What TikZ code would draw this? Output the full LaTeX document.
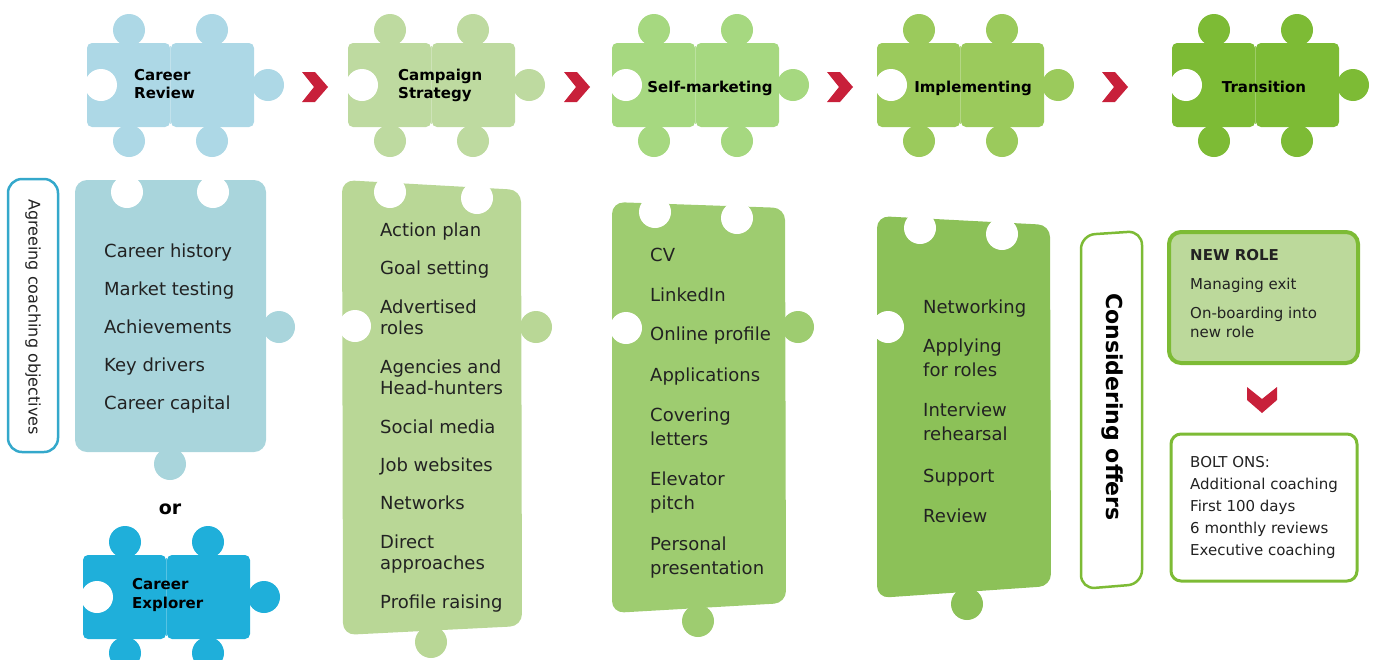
\documentclass[tikz,border=0pt]{standalone}
\usepackage{fontspec}
\setmainfont{DejaVu Sans}
\definecolor{crBlue}{RGB}{173,216,230}
\definecolor{cardBlue}{RGB}{169,213,220}
\definecolor{campG}{RGB}{190,218,160}
\definecolor{cardTwo}{RGB}{185,215,150}
\definecolor{selfG}{RGB}{166,216,128}
\definecolor{cardThree}{RGB}{158,204,112}
\definecolor{implG}{RGB}{155,202,92}
\definecolor{cardFour}{RGB}{140,193,88}
\definecolor{transG}{RGB}{125,187,53}
\definecolor{explB}{RGB}{31,175,218}
\definecolor{chevRed}{RGB}{200,32,58}
\definecolor{agreeB}{RGB}{52,168,203}
\definecolor{newRoleG}{RGB}{188,217,155}
\definecolor{txt}{RGB}{34,34,34}
\newcommand\jigsaw[3]{%
  \begin{scope}[shift={(#1,#2)}]
    \fill[#3] (42,-13) circle[radius=16] (125,-13) circle[radius=16]
              (42,98) circle[radius=16] (125,98) circle[radius=16]
              (181,42) circle[radius=16];
    \fill[#3, rounded corners=5] (0,0) rectangle (83,84);
    \fill[#3, rounded corners=5] (84,0) rectangle (167,84);
    \draw[#3!75!white, line width=1pt] (83.5,3) -- (83.5,81);
    \fill[white] (14,42) circle[radius=16];
  \end{scope}}
\newcommand\chevR[2]{\fill[chevRed, shift={(#1,#2)}] (-13,-15) -- (0,-15) -- (13,0) -- (0,15) -- (-13,15) -- (-1,0) -- cycle;}
\tikzset{
  lbl/.style={inner sep=0pt, text=black, font=\bfseries\fontsize{15}{18}\selectfont},
  item/.style={anchor=base west, inner sep=0pt, text=txt, font=\fontsize{18}{21}\selectfont},
  small/.style={anchor=base west, inner sep=0pt, text=txt, font=\fontsize{15}{18}\selectfont},
}
\begin{document}
\begin{tikzpicture}[x=1pt,y=-1pt]
\useasboundingbox (0,0) rectangle (1378,659);
% top puzzle pieces
\jigsaw{87}{43}{crBlue}
\jigsaw{348}{43}{campG}
\jigsaw{612}{43}{selfG}
\jigsaw{877}{43}{implG}
\jigsaw{1172}{43}{transG}
\jigsaw{83}{555}{explB}
\node[lbl, anchor=base west] (crA) at (134,80) {Career};
\node[lbl, anchor=base west] (crB) at (134,98) {Review};
\node[lbl, anchor=base west] (csA) at (398,80) {Campaign};
\node[lbl, anchor=base west] (csB) at (398,98) {Strategy};
\node[lbl, anchor=base] (sm) at (710,92) {Self-marketing};
\node[lbl, anchor=base] (im) at (973,92) {Implementing};
\node[lbl, anchor=base] (tr) at (1264,92) {Transition};
\node[lbl, anchor=base west] (ceA) at (132,589) {Career};
\node[lbl, anchor=base west] (ceB) at (132,608) {Explorer};
% chevrons
\chevR{315}{87}
\chevR{577}{87}
\chevR{840}{87}
\chevR{1115}{87}
% agreeing box
\draw[agreeB, line width=2.5pt, rounded corners=14] (8,179) rectangle (58,452);
\node[rotate=-90, inner sep=0pt, text=txt, font=\fontsize{16}{19}\selectfont] (agree) at (33,317) {Agreeing coaching objectives};
% card 1
\fill[cardBlue] (279,327) circle[radius=16] (170,464) circle[radius=16];
\fill[cardBlue, rounded corners=12] (75,180) rectangle (266,452);
\fill[white] (127,192) circle[radius=16] (213,192) circle[radius=16];
\node[item] (c1a) at (104,257) {Career history};
\node[item] (c1b) at (104,295) {Market testing};
\node[item] (c1c) at (104,333) {Achievements};
\node[item] (c1d) at (104,371) {Key drivers};
\node[item] (c1e) at (104,409) {Career capital};
\node[anchor=base, inner sep=0pt, font=\bfseries\fontsize{19}{22}\selectfont] (orTxt) at (170,514) {or};
% card 2
\fill[cardTwo] (536,327) circle[radius=16] (431,642) circle[radius=16];
\fill[cardTwo, rounded corners=12] (342,180) -- (521,190) -- (522,626) -- (343,635) -- cycle;
\fill[white] (390,192) circle[radius=16] (477,198) circle[radius=16] (355,326) circle[radius=16];
\node[item] (c2a) at (380,236) {Action plan};
\node[item] (c2b) at (380,274) {Goal setting};
\node[item] (c2c) at (380,313) {Advertised};
\node[item] (c2d) at (380,334) {roles};
\node[item] (c2e) at (380,373) {Agencies and};
\node[item] (c2f) at (380,394) {Head-hunters};
\node[item] (c2g) at (380,433) {Social media};
\node[item] (c2h) at (380,471) {Job websites};
\node[item] (c2i) at (380,509) {Networks};
\node[item] (c2j) at (380,548) {Direct};
\node[item] (c2k) at (380,569) {approaches};
\node[item] (c2l) at (380,608) {Profile raising};
% card 3
\fill[cardThree] (798,327) circle[radius=16] (698,621) circle[radius=16];
\fill[cardThree, rounded corners=12] (612,202) -- (785,208) -- (786,603) -- (612,613) -- cycle;
\fill[white] (655,212) circle[radius=16] (737,218) circle[radius=16] (626,328) circle[radius=16];
\node[item] (c3a) at (650,261) {CV};
\node[item] (c3b) at (650,301) {LinkedIn};
\node[item] (c3c) at (650,340) {Online profile};
\node[item] (c3d) at (650,381) {Applications};
\node[item] (c3e) at (650,421) {Covering};
\node[item] (c3f) at (650,445) {letters};
\node[item] (c3g) at (650,485) {Elevator};
\node[item] (c3h) at (650,509) {pitch};
\node[item] (c3i) at (650,550) {Personal};
\node[item] (c3j) at (650,574) {presentation};
% card 4
\fill[cardFour] (967,604) circle[radius=16];
\fill[cardFour, rounded corners=12] (877,216) -- (1050,225) -- (1051,586) -- (877,598) -- cycle;
\fill[white] (920,228) circle[radius=16] (1002,234) circle[radius=16] (888,327) circle[radius=16];
\node[item] (c4a) at (923,313) {Networking};
\node[item] (c4b) at (923,352) {Applying};
\node[item] (c4c) at (923,376) {for roles};
\node[item] (c4d) at (923,416) {Interview};
\node[item] (c4e) at (923,440) {rehearsal};
\node[item] (c4f) at (923,482) {Support};
\node[item] (c4g) at (923,522) {Review};
% considering offers
\draw[transG, line width=2.5pt, rounded corners=14, fill=white] (1081,235) -- (1142,231) -- (1142,584) -- (1081,589) -- cycle;
\node[rotate=-90, inner sep=0pt, text=black, font=\bfseries\fontsize{22}{26}\selectfont] (cons) at (1112,407) {Considering offers};
% new role
\draw[transG, line width=4pt, rounded corners=12, fill=newRoleG] (1169,232) rectangle (1358,363);
\node[small, font=\bfseries\fontsize{15}{18}\selectfont] (nrA) at (1190,260) {NEW ROLE};
\node[small] (nrB) at (1190,289) {Managing exit};
\node[small] (nrC) at (1190,318) {On-boarding into};
\node[small] (nrD) at (1190,337) {new role};
% down chevron
\fill[chevRed, shift={(1262,400)}] (-15,-13) -- (0,-1) -- (15,-13) -- (15,0) -- (0,13) -- (-15,0) -- cycle;
% bolt ons
\draw[transG, line width=3pt, rounded corners=10, fill=white] (1171,434) rectangle (1357,581);
\node[small] (boA) at (1190,467) {BOLT ONS:};
\node[small] (boB) at (1190,489) {Additional coaching};
\node[small] (boC) at (1190,511) {First 100 days};
\node[small] (boD) at (1190,533) {6 monthly reviews};
\node[small] (boE) at (1190,555) {Executive coaching};
\end{tikzpicture}
\end{document}
